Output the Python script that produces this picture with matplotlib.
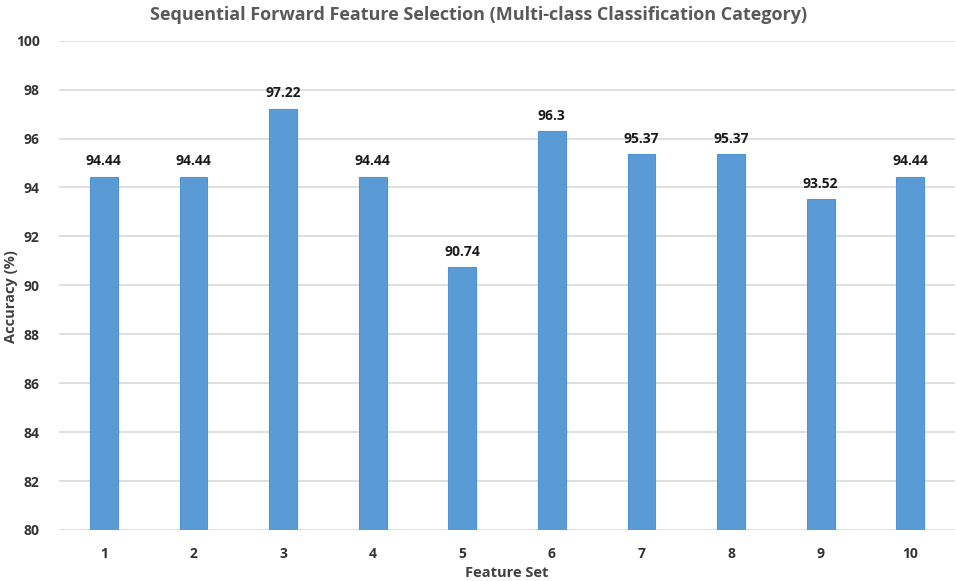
import matplotlib.pyplot as plt
import numpy as np

plt.rcParams['font.family'] = ['Open Sans', 'DejaVu Sans']

feature_sets = ["1", "2", "3", "4", "5", "6", "7", "8", "9", "10"]
accuracy = [94.44, 94.44, 97.22, 94.44, 90.74, 96.3, 95.37, 95.37, 93.52, 94.44]
labels = ["94.44", "94.44", "97.22", "94.44", "90.74", "96.3", "95.37", "95.37", "93.52", "94.44"]
yticks = [80, 82, 84, 86, 88, 90, 92, 94, 96, 98, 100]

fig = plt.figure(figsize=(9.57, 5.81), dpi=100)
ax = fig.add_axes([0.0617, 0.0878, 0.9363, 0.8422])

x = np.arange(len(feature_sets))
bars = ax.bar(x, accuracy, width=0.31, bottom=0, color="#5b9bd5",
              edgecolor="#4f93d6", linewidth=0.8, zorder=3)
for xi, v, lab in zip(x, accuracy, labels):
    ax.annotate(lab, (xi, v), xytext=(0, 6), textcoords="offset points",
                ha="center", va="bottom", fontsize=10, fontweight="bold",
                color="#1a1a1a")

ax.set_ylim(80, 100)
ax.set_xlim(-0.5, len(feature_sets) - 0.5)
ax.set_yticks(yticks)
ax.set_xticks(x)
ax.set_xticklabels(feature_sets)
ax.yaxis.grid(True, color="#d9d9d9", linewidth=1.2, zorder=0)
for s in ax.spines.values():
    s.set_visible(False)
ax.tick_params(length=0, labelsize=10, labelcolor="#333333", pad=12)
ax.tick_params(axis="y", pad=14)
for t in ax.get_xticklabels() + ax.get_yticklabels():
    t.set_fontweight("bold")

ax.set_xlabel("Feature Set", fontsize=10.5, fontweight="bold", color="#404040", labelpad=4)
fig.text(0.011, 0.49, "Accuracy (%)", rotation=90, ha="center", va="center",
         fontsize=10.5, fontweight="bold", color="#404040")
fig.text(0.5, 0.974, "Sequential Forward Feature Selection (Multi-class Classification Category)",
         ha="center", va="center", fontsize=13, fontweight="bold", color="#595959")

fig.savefig("out.png", dpi=100)
